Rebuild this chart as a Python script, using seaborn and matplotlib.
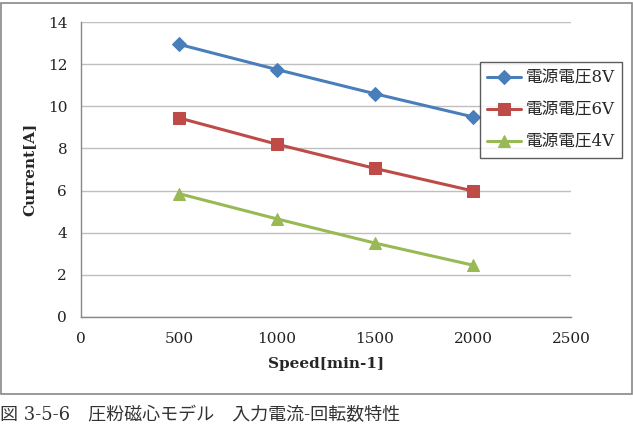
import pandas as pd
import matplotlib.pyplot as plt
import seaborn as sns
import numpy as np
from matplotlib.patches import Rectangle

# data
speed = [500, 1000, 1500, 2000]
current_8v = [12.95, 11.75, 10.6, 9.5]
current_6v = [9.45, 8.2, 7.05, 5.98]
current_4v = [5.85, 4.65, 3.5, 2.45]
series_names = ["電源電圧8V", "電源電圧6V", "電源電圧4V"]
caption = "図 3-5-6　圧粉磁心モデル　入力電流-回転数特性"

df = pd.concat([
    pd.DataFrame({"Speed": speed, "Current": vals, "系列": name})
    for name, vals in zip(series_names, [current_8v, current_6v, current_4v])
])

sns.set_style("white")
plt.rcParams['font.family'] = ['DejaVu Serif', 'Noto Sans CJK JP']

colors = {"電源電圧8V": "#4A7EBB", "電源電圧6V": "#BE4B48", "電源電圧4V": "#98B954"}
markers = {"電源電圧8V": "D", "電源電圧6V": "s", "電源電圧4V": "^"}
msize = {"電源電圧8V": 7, "電源電圧6V": 9, "電源電圧4V": 9}

fig = plt.figure(figsize=(6.33, 4.33), dpi=100)
ax = fig.add_axes([0.128, 0.2686, 0.774, 0.68])

for name in series_names:
    sub = df[df["系列"] == name]
    sns.lineplot(data=sub, x="Speed", y="Current", ax=ax, color=colors[name],
                 marker=markers[name], markersize=msize[name], linewidth=2.2,
                 markeredgecolor=colors[name], label=name)

ax.set_xlim(0, 2500)
ax.set_ylim(0, 14)
ax.set_xticks(np.arange(0, 2501, 500))
ax.set_yticks(np.arange(0, 15, 2))
ax.yaxis.grid(True, color="#BFBFBF", linewidth=1)
ax.set_axisbelow(True)
for s in ["top", "right"]:
    ax.spines[s].set_visible(False)
for s in ["left", "bottom"]:
    ax.spines[s].set_color("#888888")
    ax.spines[s].set_linewidth(1)
ax.tick_params(axis="both", direction="out", length=5, color="#888888",
               labelsize=11, labelcolor="#222222", pad=6)
ax.tick_params(axis="y", length=5, pad=5)

ax.set_xlabel("Speed[min-1]", fontsize=11, fontweight="bold", labelpad=8)
ax.set_ylabel("Current[A]", fontsize=11, fontweight="bold", labelpad=8)

leg = ax.legend(loc="upper left", bbox_to_anchor=(0.758, 0.857),
                bbox_transform=fig.transFigure, borderaxespad=0, frameon=True,
                fancybox=False, edgecolor="#333333",
                prop={"family": ["DejaVu Serif", "Noto Sans CJK JP"], "size": 12},
                handlelength=2.0, handletextpad=0.3, borderpad=0.45, labelspacing=0.9)
leg.get_frame().set_linewidth(1)

# outer chart frame
fig.patches.append(Rectangle((0.002, 0.09), 0.996, 0.903, transform=fig.transFigure,
                             fill=False, edgecolor="#888888", linewidth=1.2))

fig.text(0.0, 0.042, caption, fontsize=13, family=["DejaVu Serif", "Noto Sans CJK JP"],
         color="#333333", ha="left", va="center")

fig.savefig("out.png", dpi=100)
